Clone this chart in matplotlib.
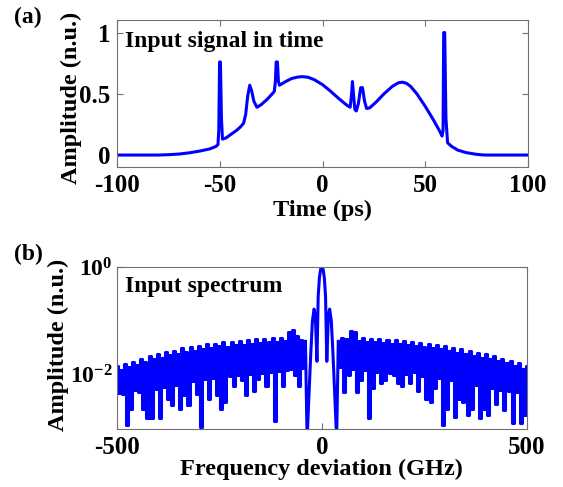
import numpy as np
import matplotlib
matplotlib.use('Agg')
import matplotlib.pyplot as plt

# (a) input signal in time
t_ps = [-100, -80, -75, -70, -65, -60, -55, -52, -51, -50.6, -50.2, -49.8, -49.3, -48.8,
        -47, -45, -42, -40, -38.5, -37.5, -36.5, -35.5, -34.5, -33.5, -32, -30, -27, -24.5,
        -23.5, -23, -22.6, -22.0, -21.5, -21, -18, -15, -12, -10, -7, -4, 0, 4, 8, 12,
        13.5, 14.2, 14.6, 15.1, 15.8, 16.5, 17.5, 18.6, 19.5, 20.5, 21.5, 23, 26, 30, 34,
        37, 39, 41, 43, 46, 50, 54, 57, 58.3, 58.8, 59.1, 59.6, 60.2, 61, 63, 66, 70, 75,
        78, 80, 100]
amp = [0, 0, 0.003, 0.008, 0.018, 0.032, 0.05, 0.07, 0.085, 0.2, 0.76, 0.76, 0.3, 0.13,
       0.14, 0.165, 0.2, 0.23, 0.26, 0.33, 0.48, 0.57, 0.52, 0.44, 0.39, 0.41, 0.455, 0.5,
       0.52, 0.6, 0.76, 0.76, 0.6, 0.57, 0.6, 0.625, 0.637, 0.64, 0.635, 0.615, 0.575, 0.52,
       0.46, 0.405, 0.39, 0.5, 0.6, 0.5, 0.37, 0.36, 0.42, 0.55, 0.55, 0.44, 0.38, 0.385,
       0.43, 0.5, 0.56, 0.59, 0.595, 0.585, 0.56, 0.5, 0.4, 0.29, 0.2, 0.155, 0.2, 1.0, 1.0,
       0.3, 0.1, 0.07, 0.04, 0.02, 0.006, 0.001, 0, 0]

# (b) input spectrum, log10(amplitude) x 100, 5 GHz steps on the sides
f_left = np.arange(-500, -39, 5)
spec_left = [-183, -233, -191, -236, -180, -293, -186, -263, -176, -229, -181, -231, -170,
             -263, -177, -281, -166, -281, -171, -226, -161, -281, -168, -222, -158, -244,
             -163, -256, -155, -218, -162, -263, -151, -238, -158, -256, -149, -212, -155,
             -235, -146, -296, -152, -207, -143, -244, -151, -205, -142, -238, -147, -263,
             -140, -250, -148, -202, -139, -220, -145, -200, -137, -210, -144, -238, -136,
             -198, -142, -230, -134, -207, -141, -196, -133, -220, -140, -194, -132, -285,
             -139, -193, -131, -220, -137, -192, -120, -190, -117, -200, -128, -220, -135,
             -188, -138]
f_lobe = [-36, -31, -27, -23, -19, -16, -12, -9, -6, -3, 0, 3, 6, 9, 12, 16, 19, 23, 27, 31, 36]
spec_lobe = [-320, -230, -160, -100, -78, -88, -175, -55, -20, -4, 0, -4, -20, -55, -175,
             -88, -78, -100, -160, -230, -320]
f_right = np.arange(40, 501, 5)
spec_right = [-138, -185, -131, -232, -133, -200, -118, -190, -121, -232, -137, -210, -132,
              -192, -139, -281, -133, -225, -140, -194, -134, -215, -141, -210, -135, -196,
              -142, -200, -136, -215, -143, -220, -137, -198, -144, -215, -139, -195, -146,
              -230, -141, -202, -148, -244, -143, -250, -150, -225, -145, -206, -152, -294,
              -147, -263, -155, -210, -150, -278, -159, -244, -153, -250, -161, -274, -156,
              -263, -165, -218, -159, -281, -168, -263, -162, -274, -171, -224, -166, -255,
              -175, -228, -170, -265, -179, -230, -174, -290, -184, -232, -178, -290, -189,
              -275, -184]

amp_left = 10 ** (np.array(spec_left) / 100.0)
amp_right = 10 ** (np.array(spec_right) / 100.0)
lobe_f = np.concatenate([[f_left[-1]], f_lobe, [f_right[0]]])
lobe_a = 10 ** (np.array([spec_left[-1]] + spec_lobe + [spec_right[0]]) / 100.0)

plt.rcParams['font.family'] = 'Liberation Serif'
plt.rcParams['font.weight'] = 'bold'
plt.rcParams['axes.labelweight'] = 'bold'
plt.rcParams['axes.unicode_minus'] = False
plt.rcParams['mathtext.fontset'] = 'custom'
plt.rcParams['mathtext.rm'] = 'Liberation Serif:bold'
plt.rcParams['mathtext.it'] = 'Liberation Serif:bold'
plt.rcParams['mathtext.bf'] = 'Liberation Serif:bold'

fig = plt.figure(figsize=(5.63, 4.87), dpi=100)
ax1 = fig.add_axes([0.2087, 0.6565, 0.7283, 0.3018])
ax2 = fig.add_axes([0.2073, 0.1197, 0.7288, 0.3320])

for ax in (ax1, ax2):
    for s in ax.spines.values():
        s.set_color('#707070')
        s.set_linewidth(0.8)
    ax.tick_params(direction='in', top=True, right=True, length=4, width=0.8,
                   color='#707070', labelsize=18, pad=5)
    ax.tick_params(which='minor', left=False, right=False, top=False, bottom=False)

ax1.plot(t_ps, amp, color='#0000ff', lw=2.2)
ax1.set_xlim(-100, 100)
ax1.set_ylim(-0.1, 1.1)
ax1.set_xticks([-100, -50, 0, 50, 100])
ax1.set_yticks([0, 0.5, 1])
ax1.set_yticklabels(['0', '0.5', '1'])
ax1.set_xlabel('Time (ps)', fontsize=17.5, labelpad=2)
ax1.set_ylabel('Amplitude (n.u.)', fontsize=17.5)
ax1.yaxis.set_label_coords(-0.087, 0.475)
ax1.text(0.018, 0.818, 'Input signal in time', transform=ax1.transAxes,
         fontsize=17, fontweight='bold', va='baseline')

ax2.plot(f_left, amp_left, color='#0000ff', lw=2.2, drawstyle='steps-mid')
ax2.plot(lobe_f, lobe_a, color='#0000ff', lw=2.2)
ax2.plot(f_right, amp_right, color='#0000ff', lw=2.2, drawstyle='steps-mid')
ax2.set_yscale('log')
ax2.set_xlim(-500, 500)
ax2.set_ylim(1e-3, 1)
ax2.set_xticks([-500, 0, 500])
ax2.set_yticks([1e-2, 1])
ax2.set_yticklabels([r'$10^{-2}$', r'$10^{0}$'])
ax2.tick_params(axis='y', which='major', labelsize=17, pad=3)
ax2.tick_params(which='minor', left=False, right=False)
ax2.set_xlabel('Frequency deviation (GHz)', fontsize=17.5, labelpad=0)
ax2.set_ylabel('Amplitude (n.u.)', fontsize=17.5)
ax2.yaxis.set_label_coords(-0.116, 0.52)
ax2.text(0.02, 0.847, 'Input spectrum', transform=ax2.transAxes,
         fontsize=17, fontweight='bold', va='baseline')

fig.text(0.025, 0.985, '(a)', fontsize=17, fontweight='bold', va='top')
fig.text(0.025, 0.50, '(b)', fontsize=17, fontweight='bold', va='top')

fig.savefig('out.png', dpi=100)
